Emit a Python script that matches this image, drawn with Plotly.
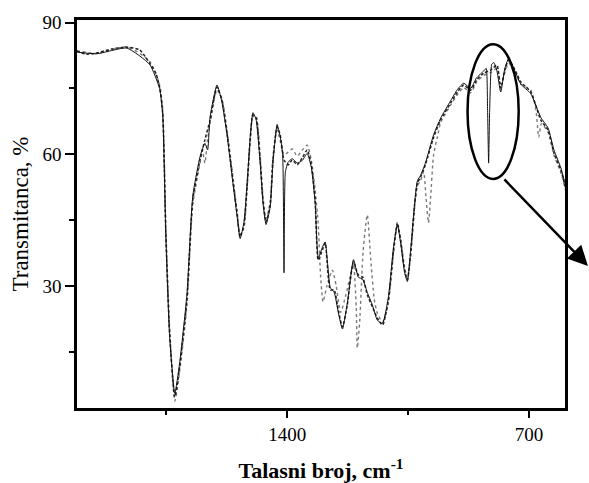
import plotly.graph_objects as go

# Wavenumber (cm^-1) and transmittance (%)
wn_dashed = [2009, 1980, 1951, 1908, 1864, 1827, 1798, 1780, 1769, 1760, 1751, 1740, 1725, 1711,
             1690, 1673, 1652, 1638, 1623, 1603, 1589, 1574, 1557, 1545, 1536, 1525, 1516, 1507,
             1499, 1490, 1478, 1470, 1461, 1449, 1441, 1429, 1420, 1409, 1397, 1385, 1371, 1356,
             1342, 1330, 1319, 1310, 1298, 1290, 1275, 1264, 1252, 1240, 1226, 1208, 1194, 1182,
             1168, 1153, 1139, 1124, 1107, 1092, 1081, 1072, 1060, 1052, 1043, 1031, 1023, 1014,
             1000, 976, 956, 927, 907, 889, 869, 852, 831, 811, 793, 782, 770, 759, 738, 724,
             695, 666, 645, 628, 608, 593]
t_dashed = [83.5, 82.8, 83.1, 84.0, 84.4, 83.8, 80.8, 78.5, 75.3, 69.4, 42.1, 19.3, 4.7, 11.5,
            26.8, 49.6, 58.7, 63.3, 67.8, 75.3, 72.4, 64.9, 54.1, 46.6, 41.2, 43.9, 52.6, 63.3,
            69.0, 68.3, 58.7, 49.6, 44.6, 48.5, 58.7, 66.2, 64.4, 58.7, 57.6, 58.7, 57.6, 59.2,
            61.0, 57.6, 49.6, 35.9, 38.2, 39.8, 29.1, 29.1, 24.5, 20.7, 25.7, 35.5, 32.5, 32.1,
            28.0, 25.2, 22.7, 21.1, 26.8, 38.2, 44.4, 40.5, 33.6, 31.4, 37.1, 48.5, 53.5, 54.8,
            57.6, 63.9, 67.8, 71.7, 74.2, 75.8, 74.6, 76.9, 78.5, 79.2, 80.3, 75.1, 79.2, 81.5,
            78.8, 76.5, 74.2, 67.8, 65.5, 60.3, 56.4, 51.9]

wn_solid = [2009, 1951, 1864, 1798, 1769, 1760, 1751, 1740, 1725, 1711, 1690, 1673, 1652, 1638,
            1630, 1623, 1603, 1589, 1574, 1557, 1545, 1536, 1525, 1516, 1507, 1499, 1490, 1478,
            1470, 1461, 1449, 1441, 1429, 1420, 1413, 1409, 1405, 1397, 1385, 1371, 1356, 1342,
            1330, 1319, 1310, 1298, 1290, 1275, 1264, 1252, 1240, 1226, 1208, 1194, 1182, 1168,
            1153, 1139, 1124, 1107, 1092, 1081, 1072, 1060, 1052, 1043, 1031, 1023, 1014, 1000,
            976, 956, 927, 907, 889, 869, 852, 831, 824, 820, 817, 814, 808, 802, 793, 782, 770,
            759, 738, 724, 695, 666, 645, 628, 608, 593]
t_solid = [83.3, 82.9, 84.2, 80.5, 75.0, 69.0, 41.5, 18.5, 5.5, 12.5, 28.0, 50.5, 59.5, 62.5,
           61.0, 68.5, 75.8, 72.0, 64.5, 53.5, 46.0, 40.8, 44.5, 53.0, 63.8, 69.5, 68.0, 58.0,
           49.0, 44.0, 48.0, 58.0, 66.8, 64.0, 60.0, 33.0, 56.0, 58.2, 59.0, 58.0, 58.6, 60.2,
           57.0, 49.0, 36.5, 38.8, 40.0, 29.6, 28.6, 24.0, 20.2, 26.0, 36.0, 32.0, 31.6, 28.5,
           25.6, 22.2, 21.5, 27.5, 39.0, 44.0, 40.0, 33.0, 31.0, 37.8, 49.0, 54.0, 55.2, 58.0,
           64.5, 68.2, 72.2, 74.8, 76.2, 75.0, 77.4, 79.0, 79.6, 70.0, 58.0, 70.0, 80.5, 80.9,
           79.0, 74.2, 79.6, 81.8, 78.4, 76.0, 73.8, 68.4, 66.0, 61.0, 56.9, 52.4]

wn_dotted = [2009, 1951, 1864, 1798, 1769, 1760, 1751, 1740, 1725, 1711, 1690, 1673, 1652, 1645,
             1638, 1630, 1623, 1603, 1589, 1574, 1557, 1545, 1536, 1525, 1516, 1507, 1499, 1490,
             1478, 1470, 1461, 1449, 1441, 1429, 1420, 1409, 1397, 1385, 1371, 1356, 1342, 1330,
             1319, 1310, 1303, 1296, 1285, 1269, 1258, 1245, 1230, 1215, 1208, 1200, 1197, 1190,
             1180, 1168, 1158, 1148, 1139, 1124, 1107, 1092, 1081, 1072, 1060, 1052, 1043, 1031,
             1023, 1014, 1005, 998, 991, 985, 976, 965, 956, 927, 907, 889, 869, 852, 831, 811,
             793, 782, 770, 759, 738, 724, 695, 680, 672, 664, 645, 628, 608, 593]
t_dotted = [83.6, 83.0, 84.5, 81.2, 75.8, 70.2, 43.5, 20.5, 3.8, 10.5, 25.5, 48.5, 58.0, 61.0,
            58.0, 63.5, 67.0, 74.6, 72.8, 65.6, 55.0, 47.2, 41.8, 43.2, 52.0, 62.5, 68.6, 68.8,
            59.5, 50.5, 45.2, 49.2, 59.5, 65.6, 63.0, 59.8, 60.5, 61.2, 59.6, 61.0, 62.1, 58.6,
            52.0, 44.0, 32.0, 26.4, 30.0, 33.6, 30.0, 24.0, 28.0, 33.0, 35.0, 25.0, 15.9, 22.0,
            38.0, 46.2, 36.0, 27.0, 23.8, 21.8, 26.2, 37.6, 43.8, 41.0, 34.2, 31.8, 36.4, 47.8,
            52.8, 54.0, 56.0, 50.0, 44.4, 50.0, 60.0, 64.0, 67.2, 71.2, 73.6, 75.2, 74.0, 76.4,
            78.0, 78.6, 79.6, 76.0, 78.6, 80.8, 78.2, 76.0, 74.6, 70.0, 63.9, 67.0, 65.0, 59.8,
            55.8, 51.4]

x_major = [1400, 700]
x_minor = [1750, 1050]
y_major = [30, 60, 90]
y_minor = [15, 45, 75]

FONT = "Liberation Serif"

fig = go.Figure()
fig.add_trace(go.Scatter(x=wn_dotted, y=t_dotted, mode="lines",
                         line=dict(color="#7a7a7a", width=1.4, dash="dot", shape="spline", smoothing=0.6)))
fig.add_trace(go.Scatter(x=wn_dashed, y=t_dashed, mode="lines",
                         line=dict(color="#222222", width=1.5, dash="3px,2px", shape="spline", smoothing=0.6)))
fig.add_trace(go.Scatter(x=wn_solid, y=t_solid, mode="lines",
                         line=dict(color="#111111", width=1.0, shape="spline", smoothing=0.5)))

# ellipse highlighting the peak near 817 cm-1
fig.add_shape(type="circle", xref="x", yref="y", x0=878, x1=730, y0=54.4, y1=85.1,
              line=dict(color="black", width=2.5))

# arrow leaving the plot (tail offset in pixels from the head)
fig.add_annotation(x=1.047, y=0.366, xref="paper", yref="paper",
                   ax=-85, ay=-88, axref="pixel", ayref="pixel",
                   showarrow=True, arrowhead=2, arrowsize=1.6, arrowwidth=2.5,
                   arrowcolor="black", text="", standoff=0, startstandoff=0)

fig.update_layout(
    width=589, height=483,
    margin=dict(l=77, r=24, t=20, b=75),
    paper_bgcolor="white", plot_bgcolor="white",
    showlegend=False,
    font=dict(family=FONT, size=19, color="black"),
    xaxis=dict(range=[2008, 596], tickvals=x_major, ticktext=[str(v) for v in x_major],
               ticks="outside", ticklen=7, tickwidth=2, tickcolor="black",
               minor=dict(tickvals=x_minor, ticks="outside", ticklen=4, tickwidth=2, tickcolor="black"),
               showline=True, linewidth=2.5, linecolor="black", mirror=True,
               showgrid=False, zeroline=False, automargin=False,
               tickfont=dict(family=FONT, size=19),
               title=dict(text="<b>Talasni broj, cm<sup>-1</sup></b>",
                          font=dict(family=FONT, size=22), standoff=20)),
    yaxis=dict(range=[2.2, 90.6], tickvals=y_major, ticktext=[str(v) for v in y_major],
               ticks="outside", ticklen=9, tickwidth=2, tickcolor="black",
               minor=dict(tickvals=y_minor, ticks="outside", ticklen=5, tickwidth=2, tickcolor="black"),
               showline=True, linewidth=2.5, linecolor="black", mirror=True,
               showgrid=False, zeroline=False, automargin=False,
               tickfont=dict(family=FONT, size=19),
               title=dict(text="Transmitanca, %", font=dict(family=FONT, size=23), standoff=8)),
)

fig.write_html("out.html")
